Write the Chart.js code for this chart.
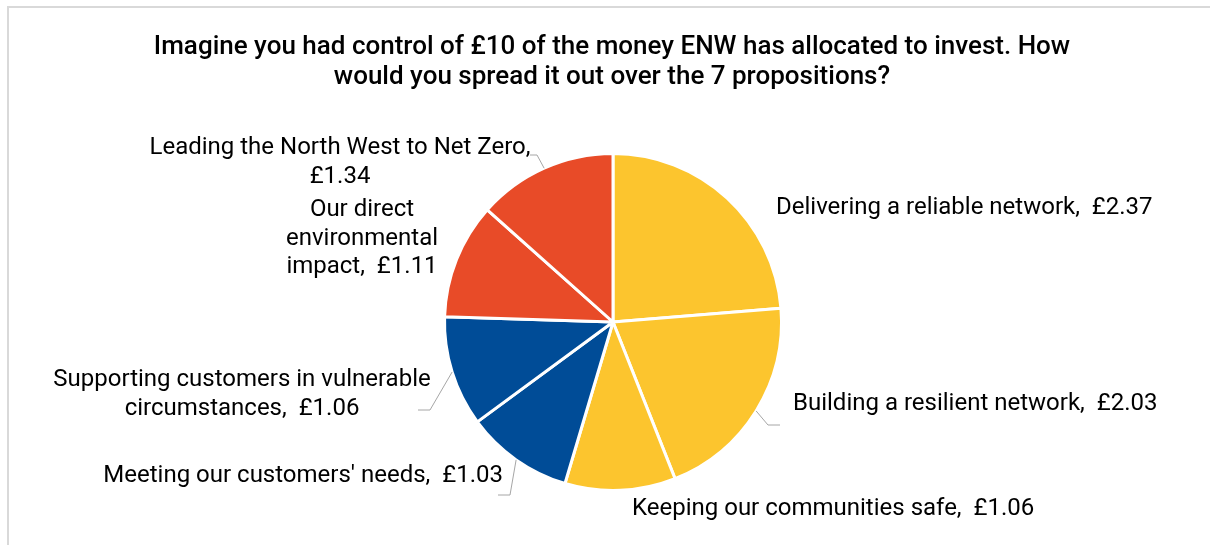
<!DOCTYPE html>
<html>
<head>
<meta charset="utf-8">
<title>Allocation of £10 across the 7 propositions</title>
<script src="https://cdn.jsdelivr.net/npm/chart.js@4.4.1/dist/chart.umd.min.js"></script>
<style>
  html, body { margin: 0; padding: 0; background: #ffffff; }
  #wrap { width: 1210px; height: 545px; position: relative; }
</style>
</head>
<body>
<div id="wrap"><canvas id="pie" width="1210" height="545"></canvas></div>
<script>
// Propositions and the average amount (£) placed on each
const categories = [
  "Delivering a reliable network",
  "Building a resilient network",
  "Keeping our communities safe",
  "Meeting our customers' needs",
  "Supporting customers in vulnerable circumstances",
  "Our direct environmental impact",
  "Leading the North West to Net Zero"
];
const amounts = [2.37, 2.03, 1.06, 1.03, 1.06, 1.11, 1.34];
const titleLines = [
  "Imagine you had control of £10 of the money ENW has allocated to invest. How",
  "would you spread it out over the 7 propositions?"
];

const YELLOW = "#FCC52E", BLUE = "#004C97", RED = "#E84B28";
const sliceColors = [YELLOW, YELLOW, YELLOW, BLUE, BLUE, RED, RED];

const FONT = "Roboto, 'Liberation Sans', sans-serif";
const LABEL_PX = 24;
const LINE_H = 28.5;

// Label placement for each slice: anchor point, alignment, wrap width, leader bend points
const labelLayout = [
  { x: 776, y: 208, align: "left",   wrap: 9999 },
  { x: 793, y: 404, align: "left",   wrap: 9999, leader: [[768, 425], [780, 425]] },
  { x: 632, y: 509, align: "left",   wrap: 9999 },
  { x: 503, y: 476, align: "right",  wrap: 9999, leader: [[510, 495], [498, 495]] },
  { x: 242, y: 380, align: "center", wrap: 400,  leader: [[430, 410], [418, 410]] },
  { x: 362, y: 210, align: "center", wrap: 170 },
  { x: 340, y: 148, align: "center", wrap: 410,  leader: [[537, 155], [530, 155]] }
];

function wrapText(ctx, text, maxW) {
  const words = text.split(" ");
  const lines = [];
  let line = "";
  for (const w of words) {
    const test = line === "" ? w : line + " " + w;
    if (line !== "" && w !== "" && ctx.measureText(test.trim()).width > maxW) {
      lines.push(line.trim());
      line = w;
    } else {
      line = test;
    }
  }
  if (line !== "") lines.push(line.trim());
  return lines;
}

const annotations = {
  id: "annotations",
  beforeDraw(chart) {
    const ctx = chart.ctx;
    ctx.save();
    ctx.fillStyle = "#ffffff";
    ctx.fillRect(0, 0, chart.width, chart.height);
    // outer frame
    ctx.strokeStyle = "#d9d9d9";
    ctx.lineWidth = 2;
    ctx.beginPath();
    ctx.moveTo(8, chart.height);
    ctx.lineTo(8, 7);
    ctx.lineTo(chart.width, 7);
    ctx.stroke();
    ctx.restore();
  },
  afterDraw(chart) {
    const ctx = chart.ctx;
    const meta = chart.getDatasetMeta(0);
    ctx.save();

    // title
    ctx.fillStyle = "#000000";
    ctx.font = "500 26px " + FONT;
    ctx.textAlign = "center";
    ctx.textBaseline = "middle";
    titleLines.forEach((t, i) => ctx.fillText(t, 612, 47 + i * 30));

    // data labels with leader lines
    ctx.font = LABEL_PX + "px " + FONT;
    meta.data.forEach((arc, i) => {
      const lay = labelLayout[i];
      const p = arc.getProps(["x", "y", "startAngle", "endAngle", "outerRadius"], true);
      const mid = (p.startAngle + p.endAngle) / 2;
      if (lay.leader) {
        ctx.strokeStyle = "#a6a6a6";
        ctx.lineWidth = 1;
        ctx.beginPath();
        ctx.moveTo(p.x + Math.cos(mid) * p.outerRadius, p.y + Math.sin(mid) * p.outerRadius);
        lay.leader.forEach(pt => ctx.lineTo(pt[0], pt[1]));
        ctx.stroke();
      }
      const text = categories[i] + ",  £" + amounts[i].toFixed(2);
      const lines = wrapText(ctx, text, lay.wrap);
      ctx.fillStyle = "#000000";
      ctx.textAlign = lay.align;
      ctx.textBaseline = "middle";
      lines.forEach((ln, k) => ctx.fillText(ln, lay.x, lay.y + k * LINE_H));
    });
    ctx.restore();
  }
};

new Chart(document.getElementById("pie"), {
  type: "pie",
  data: {
    labels: categories,
    datasets: [{
      data: amounts,
      backgroundColor: sliceColors,
      borderColor: "#ffffff",
      borderWidth: 3,
      hoverOffset: 0,
      offset: 0
    }]
  },
  options: {
    responsive: false,
    animation: false,
    layout: { padding: { top: 152, bottom: 53, left: 443, right: 427 } },
    plugins: {
      legend: { display: false },
      title: { display: false },
      tooltip: { enabled: false }
    }
  },
  plugins: [annotations]
});
</script>
</body>
</html>
